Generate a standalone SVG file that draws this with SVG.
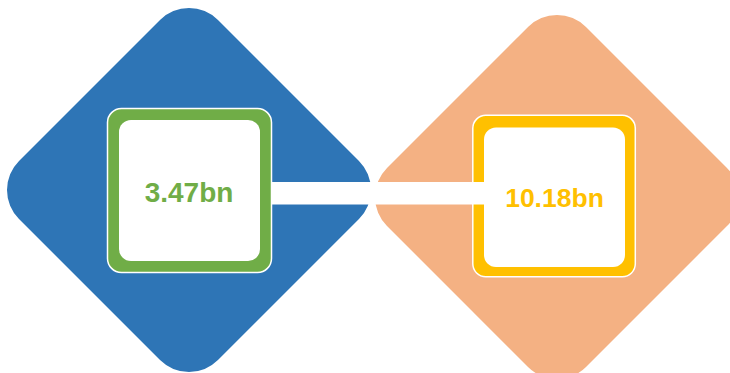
<svg xmlns="http://www.w3.org/2000/svg" width="730" height="373" viewBox="0 0 730 373">
  <style>
    .frame { stroke: #FFFFFF; stroke-width: 1.5; }
    .inner { fill: #FFFFFF; }
    .label { font-family: "Liberation Sans", Arial, sans-serif; font-weight: bold; text-anchor: middle; }
  </style>
  <rect width="730" height="373" fill="#FFFFFF"/>
  <g id="node-left">
    <rect x="-140.7" y="-140.7" width="281.4" height="281.4" rx="41" fill="#2E75B6" transform="translate(189 190) rotate(45)"/>
    <rect class="frame" x="107.5" y="108.5" width="164" height="164" rx="14" fill="#70AD47"/>
    <rect class="inner" x="119" y="120" width="141" height="141" rx="12"/>
    <text class="label" x="189" y="201.5" font-size="28" fill="#70AD47">3.47bn</text>
  </g>
  <g id="node-right">
    <rect x="-140.7" y="-140.7" width="281.4" height="281.4" rx="41" fill="#F4B183" transform="translate(557 197) rotate(45)"/>
    <rect class="frame" x="472.8" y="115.3" width="162.5" height="161.5" rx="13" fill="#FFC000"/>
    <rect class="inner" x="484" y="127.5" width="141" height="139.5" rx="12"/>
    <text class="label" x="554.5" y="206.5" font-size="26.5" fill="#FFC000">10.18bn</text>
  </g>
  <g id="connectors">
    <rect x="271" y="182" width="213.5" height="22.5" fill="#FFFFFF"/>
  </g>
</svg>
